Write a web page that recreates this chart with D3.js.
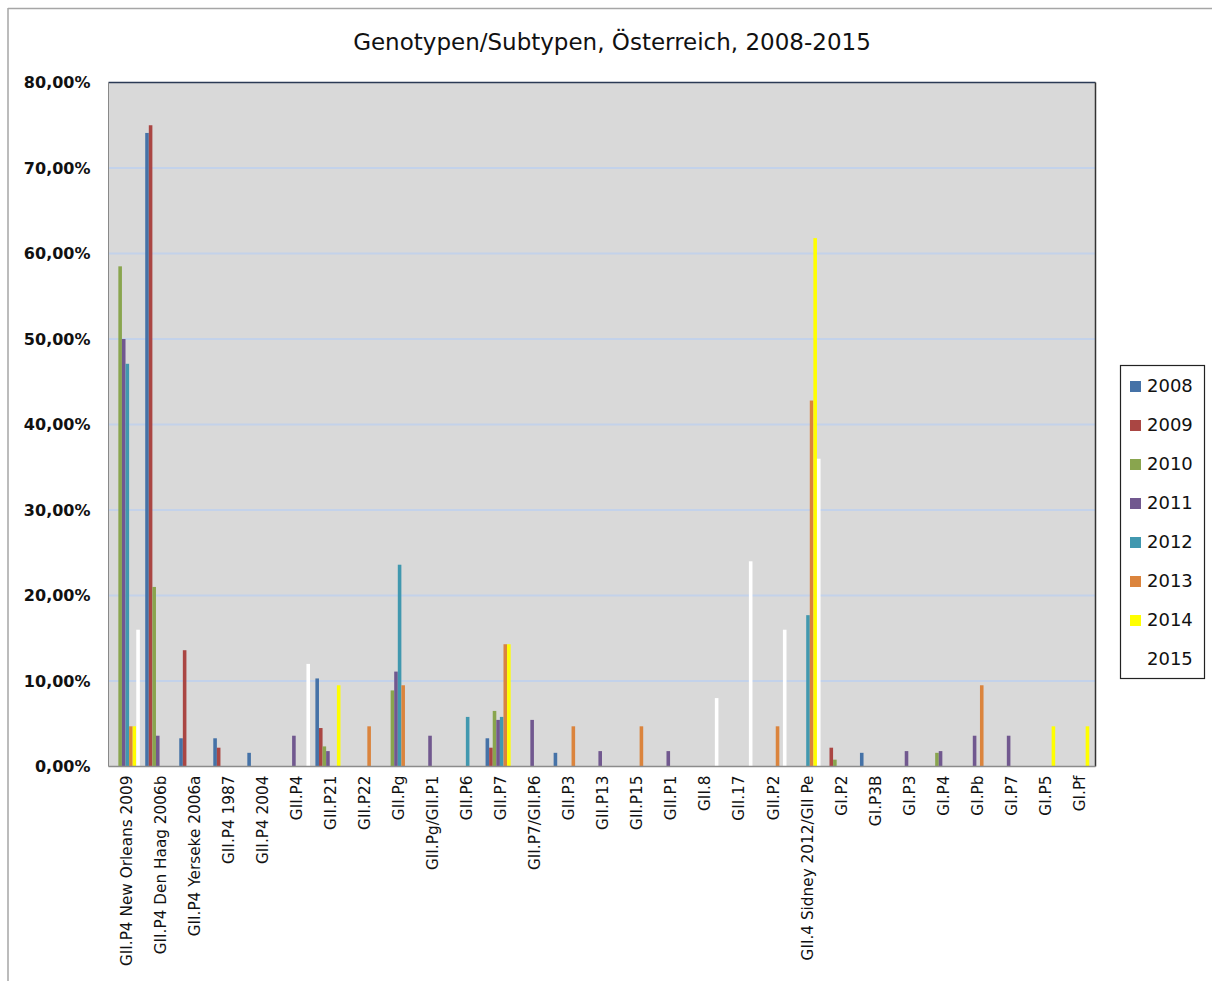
<!DOCTYPE html>
<html><head><meta charset="utf-8">
<script src="https://cdn.jsdelivr.net/npm/d3@7"></script>
<style>body{margin:0;background:#fff}svg{display:block}</style>
</head><body>
<svg id="chart" width="1212" height="981"></svg>
<script>
const categories = ["GII.P4 New Orleans 2009","GII.P4 Den Haag 2006b","GII.P4 Yerseke 2006a","GII.P4 1987","GII.P4 2004","GII.P4","GII.P21","GII.P22","GII.Pg","GII.Pg/GII.P1","GII.P6","GII.P7","GII.P7/GII.P6","GII.P3","GII.P13","GII.P15","GII.P1","GII.8","GII.17","GII.P2","GII.4 Sidney 2012/GII Pe","GI.P2","GI.P3B","GI.P3","GI.P4","GI.Pb","GI.P7","GI.P5","GI.Pf"];
const years = ["2008","2009","2010","2011","2012","2013","2014","2015"];
const colors = ["#4572A7","#AA4643","#89A54E","#71588F","#4198AF","#DB843D","#FFFF00","#FFFFFF"];
const v2008 = [0,74.1,3.3,3.3,1.6,0,10.3,0,0,0,0,3.3,0,1.6,0,0,0,0,0,0,0,0,1.6,0,0,0,0,0,0];
const v2009 = [0,75.0,13.6,2.2,0,0,4.5,0,0,0,0,2.2,0,0,0,0,0,0,0,0,0,2.2,0,0,0,0,0,0,0];
const v2010 = [58.5,21.0,0,0,0,0,2.35,0,8.9,0,0,6.5,0,0,0,0,0,0,0,0,0,0.8,0,0,1.6,0,0,0,0];
const v2011 = [50.0,3.6,0,0,0,3.6,1.8,0,11.1,3.6,0,5.45,5.45,0,1.8,0,1.8,0,0,0,0,0,0,1.8,1.8,3.6,3.6,0,0];
const v2012 = [47.1,0,0,0,0,0,0,0,23.6,0,5.8,5.8,0,0,0,0,0,0,0,0,17.7,0,0,0,0,0,0,0,0];
const v2013 = [4.7,0,0,0,0,0,0,4.7,9.5,0,0,14.3,0,4.7,0,4.7,0,0,0,4.7,42.8,0,0,0,0,9.5,0,0,0];
const v2014 = [4.7,0,0,0,0,0,9.5,0,0,0,0,14.3,0,0,0,0,0,0,0,0,61.8,0,0,0,0,0,0,4.7,4.7];
const v2015 = [16.0,0,0,0,0,12.0,0,0,0,0,0,0,0,0,0,0,0,8.0,24.0,16.0,36.0,0,0,0,0,0,0,0,0];
const series = [v2008,v2009,v2010,v2011,v2012,v2013,v2014,v2015];
const yTicks = [0,10,20,30,40,50,60,70,80];

const svg = d3.select("#chart");
const L = 108.5, R = 1095.5, T = 82.5, B = 766.5;

// outer frame (top and left)
svg.append("line").attr("x1",8).attr("x2",1212).attr("y1",8.5).attr("y2",8.5).attr("stroke","#a6a6a6").attr("stroke-width",1.5);
svg.append("line").attr("x1",8).attr("x2",8).attr("y1",8).attr("y2",981).attr("stroke","#a6a6a6").attr("stroke-width",1.5);

const x0 = d3.scaleBand().domain(categories).range([L,R]).padding(0);
const x1 = d3.scaleBand().domain(years).range([0,x0.bandwidth()]).paddingInner(0).paddingOuter(0.75);
const y = d3.scaleLinear().domain([0,80]).range([B,T]);
const color = d3.scaleOrdinal().domain(years).range(colors);

svg.append("rect").attr("x",L).attr("y",T).attr("width",R-L).attr("height",B-T).attr("fill","#D9D9D9");

// gridlines
svg.append("g").selectAll("line").data(yTicks.filter(d=>d>0&&d<80)).join("line")
  .attr("x1",L).attr("x2",R).attr("y1",d=>y(d)).attr("y2",d=>y(d))
  .attr("stroke","#C3D2EA").attr("stroke-width",2);

// bars
const data = [];
categories.forEach((c,i)=>years.forEach((yr,j)=>{ if(series[j][i]>0) data.push({c,yr,v:series[j][i]}); }));
svg.append("g").selectAll("rect").data(data).join("rect")
  .attr("x",d=>x0(d.c)+x1(d.yr)).attr("width",x1.bandwidth())
  .attr("y",d=>y(d.v)).attr("height",d=>y(0)-y(d.v))
  .attr("fill",d=>color(d.yr));

// plot border
svg.append("line").attr("x1",L).attr("x2",R).attr("y1",T).attr("y2",T).attr("stroke","#2b3a55").attr("stroke-width",1.5);
svg.append("line").attr("x1",R).attr("x2",R).attr("y1",T).attr("y2",B).attr("stroke","#333").attr("stroke-width",1.5);
svg.append("line").attr("x1",L).attr("x2",L).attr("y1",T).attr("y2",B).attr("stroke","#888").attr("stroke-width",1);
svg.append("line").attr("x1",L).attr("x2",R).attr("y1",B).attr("y2",B).attr("stroke","#8c8c8c").attr("stroke-width",1.5);

// y axis labels
const yAxis = d3.axisLeft(y).tickValues(yTicks).tickSize(0).tickPadding(0)
  .tickFormat(d=>d3.format(".2f")(d).replace(".",",")+"%");
const ya = svg.append("g").attr("transform",`translate(${L-18},0)`).call(yAxis);
ya.select(".domain").remove();
ya.selectAll("text").attr("font-family","DejaVu Sans").attr("font-weight","bold").attr("font-size",16).attr("fill","#111");

// x axis labels
const xAxis = d3.axisBottom(x0).tickSize(0).tickPadding(0);
const xa = svg.append("g").attr("transform",`translate(0,${B})`).call(xAxis);
xa.select(".domain").remove();
xa.selectAll("text").attr("font-family","DejaVu Sans").attr("font-size",15.3).attr("fill","#111")
  .attr("text-anchor","end").attr("dy","0.35em")
  .attr("transform","translate(1,9) rotate(-90)").attr("x",0).attr("y",0);

// title
svg.append("text").attr("x",612).attr("y",50).attr("text-anchor","middle")
  .attr("font-family","DejaVu Sans").attr("font-size",23).attr("fill","#111")
  .text("Genotypen/Subtypen, Österreich, 2008-2015");

// legend
const lg = svg.append("g");
lg.append("rect").attr("x",1120.5).attr("y",365.5).attr("width",84).attr("height",313).attr("fill","#fff").attr("stroke","#222").attr("stroke-width",1.2);
const ly = d3.scalePoint().domain(years).range([386,659]);
lg.selectAll("rect.sw").data(years).join("rect").attr("class","sw")
  .attr("x",1130).attr("y",d=>ly(d)-5).attr("width",11).attr("height",11).attr("fill",d=>color(d));
lg.selectAll("text").data(years).join("text")
  .attr("x",1147).attr("y",d=>ly(d)).attr("dy","0.36em")
  .attr("font-family","DejaVu Sans").attr("font-size",18).attr("fill","#111").text(d=>d);
</script>
</body></html>
